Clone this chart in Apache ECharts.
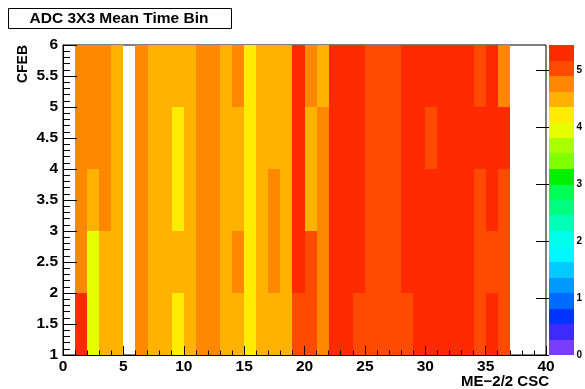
<!DOCTYPE html>
<html>
<head>
<meta charset="utf-8">
<script src="https://cdn.jsdelivr.net/npm/echarts@6/dist/echarts.min.js"></script>
<style>
  html, body { margin: 0; padding: 0; background: #fff; }
  #chart { width: 585px; height: 389px; }
</style>
</head>
<body>
<div id="chart"></div>
<script>
// chamber numbers along x (bin starts), CFEB along y (bin starts)
const chambers = [1, 2, 3, 4, 5, 6, 7, 8, 9, 10, 11, 12, 13, 14, 15, 16, 17, 18,
  19, 20, 21, 22, 23, 24, 25, 26, 27, 28, 29, 30, 31, 32, 33, 34, 35, 36];
const cfebs = [1, 2, 3, 4, 5];

// mean time bin per chamber, one array per CFEB row (null = no data)
const cfeb1 = [5.31, 3.96, 4.47, 4.52, null, 4.74, 4.45, 4.50, 4.21, 4.48, 4.78, 4.72,
  4.55, 4.46, 4.25, 4.49, 4.43, 4.53, 5.02, 5.08, 4.81, 5.27, 5.33, 5.05,
  5.11, 4.98, 5.06, 5.12, 5.29, 5.35, 5.24, 5.30, 5.36, 5.04, 5.21, 5.09];
const cfeb2 = [4.77, 3.93, 4.51, 4.47, null, 4.70, 4.52, 4.44, 4.57, 4.49, 4.75, 4.80,
  4.46, 4.69, 4.19, 4.54, 4.71, 4.48, 5.26, 5.01, 4.83, 5.34, 5.28, 5.22,
  5.07, 5.13, 5.03, 5.25, 5.32, 5.38, 5.27, 5.23, 5.31, 5.10, 5.06, 5.00];
const cfeb3 = [4.73, 4.56, 4.79, 4.50, null, 4.76, 4.49, 4.53, 4.24, 4.45, 4.70, 4.77,
  4.51, 4.58, 4.17, 4.47, 4.74, 4.55, 5.23, 4.42, 4.78, 5.30, 5.37, 5.26,
  5.04, 4.97, 5.09, 5.33, 5.21, 5.28, 5.35, 5.29, 5.24, 5.12, 5.32, 5.05];
const cfeb4 = [4.80, 4.72, 4.75, 4.46, null, 4.79, 4.54, 4.48, 4.23, 4.52, 4.73, 4.69,
  4.49, 4.44, 4.20, 4.56, 4.50, 4.45, 5.29, 4.47, 4.76, 5.25, 5.31, 5.36,
  5.08, 5.02, 5.14, 5.22, 5.34, 5.06, 5.30, 5.26, 5.39, 5.24, 5.28, 5.33];
const cfeb5 = [4.71, 4.78, 4.74, 4.53, null, 4.77, 4.46, 4.51, 4.48, 4.55, 4.81, 4.74,
  4.45, 4.72, 4.26, 4.50, 4.57, 4.43, 5.32, 4.75, 4.48, 5.28, 5.24, 5.33,
  5.00, 5.10, 5.05, 5.27, 5.36, 5.22, 5.31, 5.34, 5.25, 5.07, 5.29, 4.80];

// colour scale
const zMin = 0;
const zMax = 5.44;
const paletteTicks = [0, 1, 2, 3, 4, 5];
const palette = [
  '#7a3cff', '#3d2aff', '#0033ff', '#006aff', '#0099ff', '#00ccff', '#00f7ff',
  '#00ffea', '#00ffb7', '#00ff80', '#00ff55', '#00f000', '#80ff00', '#aaff00',
  '#e5ff00', '#ffec00', '#ffb200', '#ff8800', '#ff4a00', '#ff2a00'
];

const FONT = '"Liberation Sans", Arial, Helvetica, sans-serif';

const rows = [cfeb1, cfeb2, cfeb3, cfeb4, cfeb5];
const cells = [];
rows.forEach((row, r) => {
  row.forEach((v, c) => {
    if (v != null) cells.push([chambers[c], cfebs[r], v]);
  });
});

const step = (zMax - zMin) / palette.length;
const pieces = palette.map((color, k) => ({
  gte: zMin + k * step,
  lt: zMin + (k + 1) * step,
  color: color
}));
const bands = palette.map((color, k) => [zMin + k * step, zMin + (k + 1) * step, k]);

const chart = echarts.init(document.getElementById('chart'), null, { renderer: 'canvas' });

const option = {
  animation: false,
  backgroundColor: '#fff',
  grid: [
    { left: 63, top: 45, width: 483, height: 310, show: true, borderColor: '#000', borderWidth: 1, backgroundColor: 'transparent' },
    { left: 549, top: 45, width: 27, height: 310, show: false }
  ],
  visualMap: {
    show: false,
    type: 'piecewise',
    seriesIndex: 0,
    dimension: 2,
    pieces: pieces
  },
  xAxis: [
    {
      gridIndex: 0,
      type: 'value',
      min: 0,
      max: 40,
      interval: 5,
      z: 10,
      axisLine: { show: true, onZero: false, lineStyle: { color: '#000', width: 1 } },
      axisTick: { show: true, inside: true, length: 9, lineStyle: { color: '#000' } },
      minorTick: { show: true, splitNumber: 5, length: 4.5, lineStyle: { color: '#000' } },
      splitLine: { show: false },
      axisLabel: { color: '#000', fontFamily: FONT, fontWeight: 'bold', fontSize: 15.5, margin: 4 }
    },
    {
      gridIndex: 1,
      type: 'value',
      min: 0,
      max: 1,
      show: false
    }
  ],
  yAxis: [
    {
      gridIndex: 0,
      type: 'value',
      min: 1,
      max: 6,
      interval: 0.5,
      z: 10,
      axisLine: { show: true, onZero: false, lineStyle: { color: '#000', width: 1 } },
      axisTick: { show: true, inside: true, length: 14, lineStyle: { color: '#000' } },
      minorTick: { show: true, splitNumber: 5, length: 7, lineStyle: { color: '#000' } },
      splitLine: { show: false },
      axisLabel: { color: '#000', fontFamily: FONT, fontWeight: 'bold', fontSize: 15.5, margin: 5 }
    },
    {
      gridIndex: 1,
      type: 'value',
      position: 'right',
      min: zMin,
      max: zMax,
      z: 10,
      axisLine: { show: false },
      axisTick: { show: true, inside: true, length: 13, customValues: paletteTicks, lineStyle: { color: '#000' } },
      splitLine: { show: false },
      axisLabel: {
        customValues: paletteTicks,
        color: '#000', fontFamily: FONT, fontWeight: 'bold', fontSize: 10, margin: 2
      }
    }
  ],
  series: [
    {
      type: 'custom',
      xAxisIndex: 0,
      yAxisIndex: 0,
      encode: { x: 0, y: 1 },
      data: cells,
      z: 2,
      renderItem: function (params, api) {
        const x = api.value(0);
        const y = api.value(1);
        const p0 = api.coord([x, y + 1]);
        const p1 = api.coord([x + 1, y]);
        const x0 = Math.round(p0[0]);
        const y0 = Math.round(p0[1]);
        const x1 = Math.round(p1[0]);
        const y1 = Math.round(p1[1]);
        return {
          type: 'rect',
          shape: { x: x0, y: y0, width: x1 - x0, height: y1 - y0 },
          style: { fill: api.visual('color'), stroke: null }
        };
      }
    },
    {
      type: 'custom',
      xAxisIndex: 1,
      yAxisIndex: 1,
      encode: { y: [0, 1] },
      data: bands,
      z: 2,
      renderItem: function (params, api) {
        const lo = api.value(0);
        const hi = api.value(1);
        const k = api.value(2);
        const p0 = api.coord([0, hi]);
        const p1 = api.coord([1, lo]);
        const x0 = Math.round(p0[0]);
        const y0 = Math.round(p0[1]);
        const x1 = Math.round(p1[0]);
        const y1 = Math.round(p1[1]);
        return {
          type: 'rect',
          shape: { x: x0, y: y0, width: x1 - x0, height: y1 - y0 },
          style: { fill: palette[k], stroke: null }
        };
      }
    }
  ],
  graphic: [
    {
      type: 'rect',
      shape: { x: 8.5, y: 8.5, width: 223, height: 20 },
      style: { fill: '#fff', stroke: '#000', lineWidth: 1 }
    },
    {
      type: 'text',
      x: 119,
      y: 19,
      style: {
        text: 'ADC 3X3 Mean Time Bin',
        fill: '#000',
        font: 'bold 15.5px ' + FONT,
        textAlign: 'center',
        textVerticalAlign: 'middle'
      }
    },
    {
      type: 'text',
      x: 23,
      y: 45,
      rotation: Math.PI / 2,
      style: {
        text: 'CFEB',
        fill: '#000',
        font: 'bold 14px ' + FONT,
        textAlign: 'right',
        textVerticalAlign: 'middle'
      }
    },
    {
      type: 'text',
      x: 549,
      y: 382,
      style: {
        text: 'ME\u22122/2 CSC',
        fill: '#000',
        font: 'bold 15px ' + FONT,
        textAlign: 'right',
        textVerticalAlign: 'middle'
      }
    }
  ]
};

chart.setOption(option);
</script>
</body>
</html>
